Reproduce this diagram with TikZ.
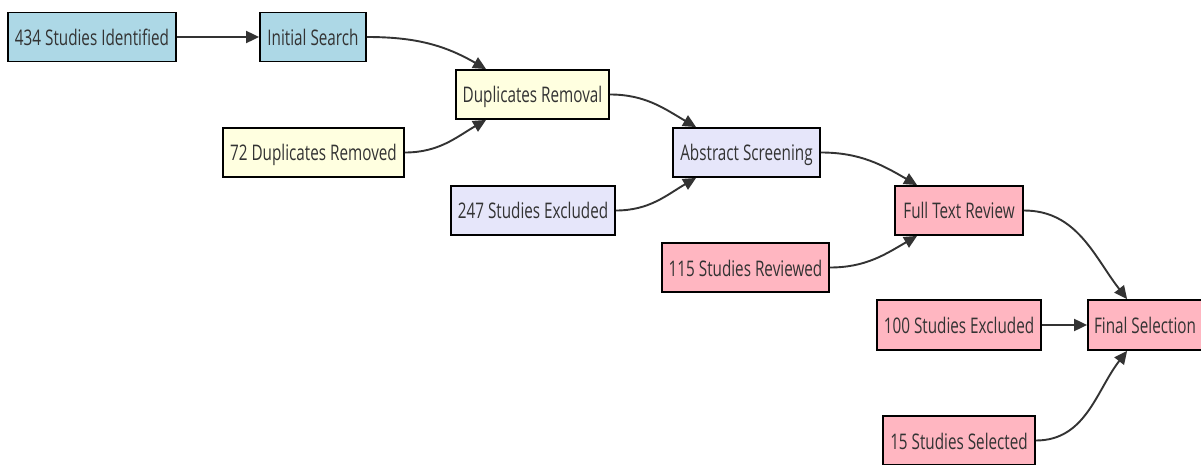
\documentclass[tikz,border=0pt]{standalone}
\usepackage{fontspec}
\setmainfont[FakeStretch=0.71]{Open Sans}
\usetikzlibrary{arrows.meta,calc}
\definecolor{cblue}{HTML}{ADD8E6}
\definecolor{cyellow}{HTML}{FFFFE0}
\definecolor{clav}{HTML}{E6E6FA}
\definecolor{cpink}{HTML}{FFB6C1}
\definecolor{cline}{HTML}{333333}
\definecolor{ctext}{HTML}{333333}
\tikzset{
  box/.style={draw=black, line width=1.8pt, minimum height=49pt, inner sep=0pt,
    text height=17pt, text depth=0pt,
    text=ctext, font=\fontsize{21.5}{24}\selectfont, anchor=center},
  bluebox/.style={box, fill=cblue},
  yelbox/.style={box, fill=cyellow},
  lavbox/.style={box, fill=clav},
  pinkbox/.style={box, fill=cpink},
  link/.style={draw=cline, line width=1.9pt, -{Triangle[length=13pt,width=12pt]}},
}
\begin{document}
\begin{tikzpicture}[x=1pt,y=1pt]
\useasboundingbox (0,0) rectangle (1201,464);
\clip (0,0) rectangle (1201,464);
\fill[white] (0,0) rectangle (1201,464);

\node[bluebox, minimum width=168pt] (s434) at (92,427) {434 Studies Identified};
\node[bluebox, minimum width=106pt] (is) at (313,427) {Initial Search};
\node[yelbox, minimum width=153pt] (dup) at (532.5,369.5) {Duplicates Removal};
\node[yelbox, minimum width=181pt] (d72) at (313.5,311.5) {72 Duplicates Removed};
\node[lavbox, minimum width=147pt] (abs) at (746.5,311.5) {Abstract Screening};
\node[lavbox, minimum width=164pt] (e247) at (533,253.5) {247 Studies Excluded};
\node[pinkbox, minimum width=128pt] (ft) at (959,253.5) {Full Text Review};
\node[pinkbox, minimum width=167pt] (r115) at (745.5,196.5) {115 Studies Reviewed};
\node[pinkbox, minimum width=164pt, minimum height=50pt] (e100) at (959,139) {100 Studies Excluded};
\node[pinkbox, minimum width=126pt, minimum height=50pt] (fin) at (1151,139) {\hspace*{-12pt}Final Selection};
\node[pinkbox, minimum width=152pt] (s15) at (959,23.5) {15 Studies Selected};

\coordinate (dupT) at ($(dup.north west)+(31,0)$);
\coordinate (dupB) at ($(dup.south west)+(31,0)$);
\coordinate (absT) at ($(abs.north west)+(24,0)$);
\coordinate (absB) at ($(abs.south west)+(24,0)$);
\coordinate (ftT) at ($(ft.north west)+(23,0)$);
\coordinate (ftB) at ($(ft.south west)+(23,0)$);
\coordinate (finT) at ($(fin.north west)+(40,0)$);
\coordinate (finB) at ($(fin.south west)+(40,0)$);

\draw[link] (s434.east) -- (is.west);
\draw[link] (is.east) to[out=0,in=150] (dupT);
\draw[link] (d72.east) to[out=0,in=210] (dupB);
\draw[link] (dup.east) to[out=0,in=150] (absT);
\draw[link] (e247.east) to[out=0,in=210] (absB);
\draw[link] (abs.east) to[out=0,in=150] (ftT);
\draw[link] (r115.east) to[out=0,in=210] (ftB);
\draw[link] (ft.east) to[out=0,in=128] (finT);
\draw[link] (e100.east) -- (fin.west);
\draw[link] (s15.east) to[out=0,in=232] (finB);
\end{tikzpicture}
\end{document}
